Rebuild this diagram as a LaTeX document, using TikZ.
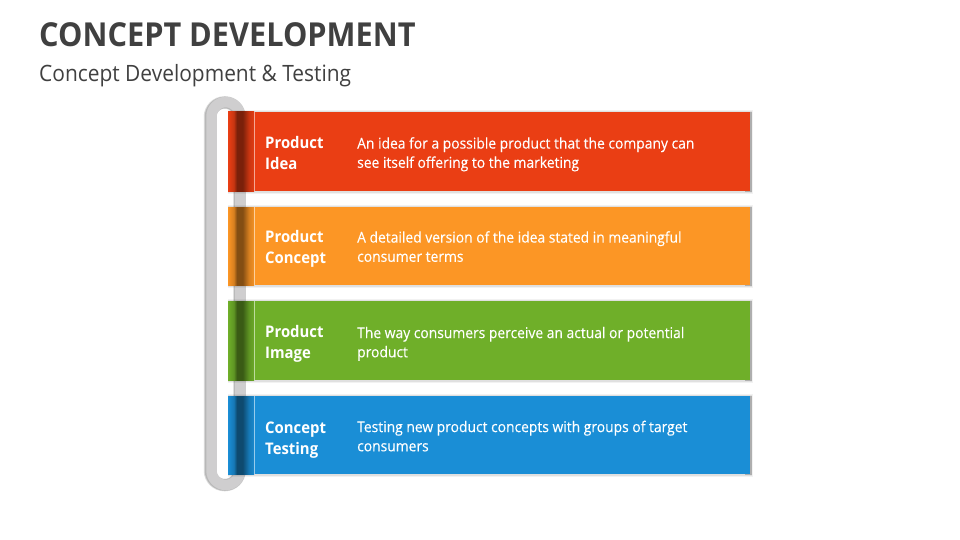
\documentclass[tikz,border=0pt]{standalone}
\usepackage{fontspec}
\setmainfont{Open Sans}
\newfontfamily\narrowfont[FakeStretch=0.93]{Open Sans}
\newfontfamily\descfont[FakeStretch=0.93,FakeBold=0.2]{Open Sans}
\usetikzlibrary{calc}
\definecolor{cOne}{HTML}{EA3E14}
\definecolor{cTwo}{HTML}{FC9625}
\definecolor{cThree}{HTML}{6FAF29}
\definecolor{cFour}{HTML}{1A8ED6}
\definecolor{ringc}{HTML}{CFCECF}
\definecolor{inkc}{HTML}{404040}
\newcommand{\mkband}[1]{\pgfdeclarehorizontalshading{band#1}{100bp}{color(0bp)=(#1); color(25bp)=(#1); color(36bp)=(#1!85!black); color(42bp)=(#1!52!black); color(53bp)=(#1!52!black); color(65bp)=(#1!85!black); color(75bp)=(#1!96!black); color(100bp)=(#1)}}
\mkband{cOne}\mkband{cTwo}\mkband{cThree}\mkband{cFour}
\tikzset{
  x=1pt,y=-1pt,
  titletext/.style={anchor=west,inner sep=0,text=inkc,font=\narrowfont\fontsize{33}{36}\selectfont\bfseries},
  subtext/.style={anchor=west,inner sep=0,text=inkc,font=\narrowfont\fontsize{22.5}{24}\selectfont},
  headtext/.style={anchor=south west,inner sep=0,text depth=0pt,text=white,align=left,font=\narrowfont\fontsize{16}{21}\selectfont\bfseries},
  desctext/.style={anchor=south west,inner sep=0,text depth=0pt,text=white,align=left,font=\descfont\fontsize{14.9}{19.2}\selectfont},
}
\newcommand{\barrow}[8]{% name, col, top, bottom, head, desc, head baseline, desc baseline
  \fill[black,opacity=.05] (228,#3-2) rectangle (753,#4+2.5);
  \fill[black,opacity=.07] (228,#3-1) rectangle (752,#4+1.5);
  \fill[black,opacity=.22] (745,#3) rectangle (751.5,#4+.5);
  \fill[white] (226.5,#3) rectangle (228,#4);
  \fill[#2] (228,#3) rectangle (750,#4);
  \shade[shading=band#2] (228,#3) rectangle (254,#4);
  \draw[white,opacity=.55,line width=.8] (254.5,#3) -- (254.5,#4);
  \node[headtext] (#1h) at (265,#7) {#5};
  \node[desctext] (#1d) at (357,#8) {#6};
}
\begin{document}
\begin{tikzpicture}
\useasboundingbox (0,0) rectangle (960,540);
\fill[white] (0,0) rectangle (960,540);
\node[titletext] (title) at (39,34.5) {CONCEPT DEVELOPMENT};
\node[subtext] (subtitle) at (39,76) {Concept Development \& Testing};
\draw[black!14,line width=12.5,rounded corners=14.5] (210,102.5) rectangle (239.5,485);
\draw[black!28,line width=11.5,rounded corners=14.5] (210.5,102.5) rectangle (239.5,485);
\draw[ringc,line width=10.5,rounded corners=14.5] (211.5,102) rectangle (240,485);
\barrow{a}{cOne}{112}{191}{Product\\Idea}{An idea for a possible product that the company can\\see itself offering to the marketing}{170}{168}
\barrow{b}{cTwo}{207}{285}{Product\\Concept}{A detailed version of the idea stated in meaningful\\consumer terms}{264}{262}
\barrow{c}{cThree}{301}{380}{Product\\Image}{The way consumers perceive an actual or potential\\product}{359}{357.5}
\barrow{d}{cFour}{396}{474}{Concept\\Testing}{Testing new product concepts with groups of target\\consumers}{454.5}{451.5}
\end{tikzpicture}
\end{document}
